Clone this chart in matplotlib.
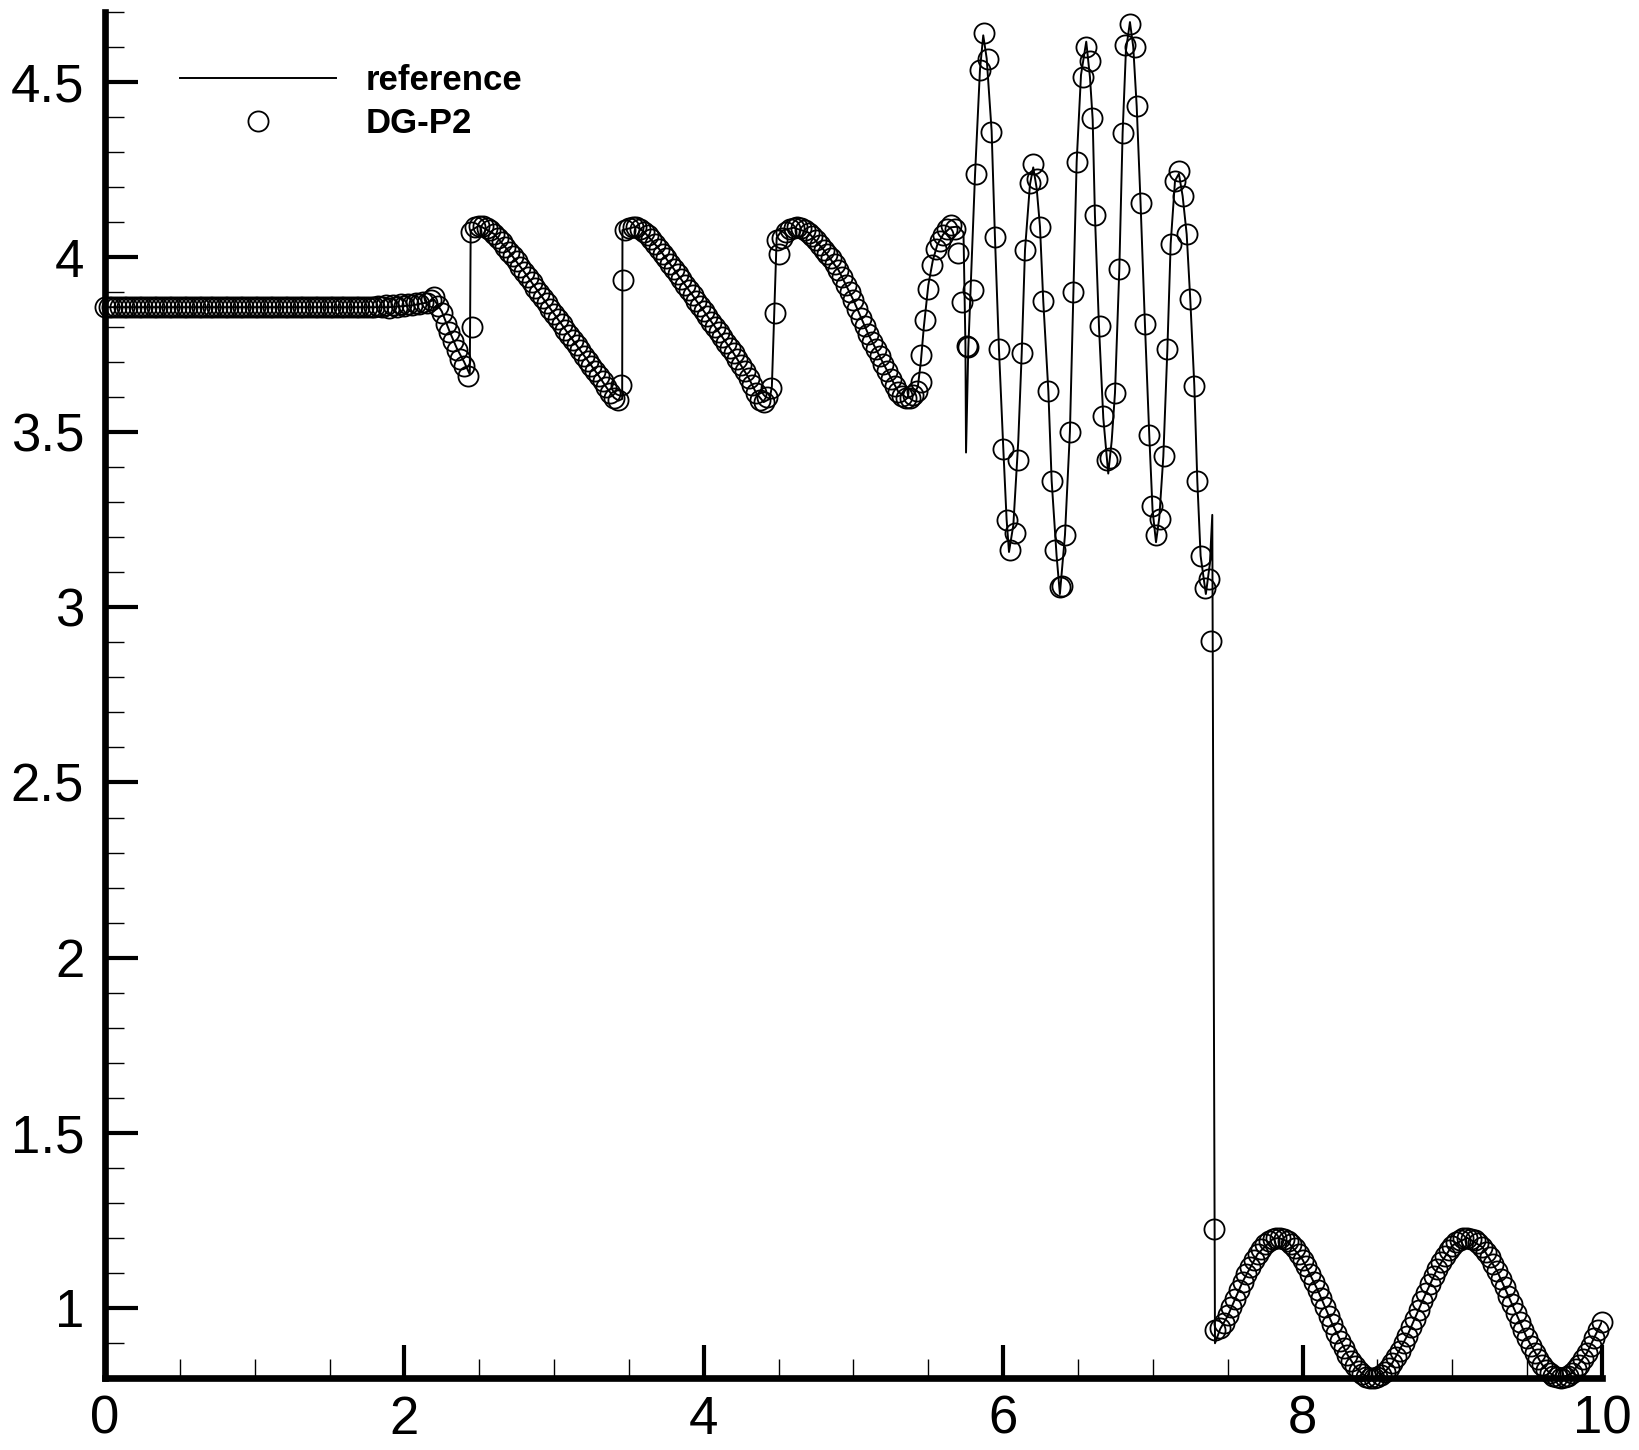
"""
Density profile: fine-grid reference vs DG-P2 (shock / entropy-wave interaction)
"""

import numpy as np
import matplotlib
matplotlib.use('Agg')  # no display
import matplotlib.pyplot as plt
from matplotlib.ticker import MultipleLocator, FormatStrFormatter

plt.rcParams['font.family'] = ['Liberation Sans', 'DejaVu Sans']

# ---------------------------------------------------------------------------
# DG-P2 points, left part on a uniform 0.025 grid starting at x = 0
# ---------------------------------------------------------------------------
DX = 0.025

rho_flat = [3.857] * 73  # x = 0 .. 1.8
rho_bump = [3.86, 3.857, 3.862, 3.855, 3.863, 3.858, 3.865, 3.86, 3.866, 3.862,
            3.868, 3.865, 3.872, 3.87, 3.878, 3.885,
            3.86, 3.84, 3.81, 3.785, 3.76, 3.735, 3.71, 3.69, 3.66,
            3.80, 4.085, 4.09]
rho_saw1 = [4.088, 4.083, 4.076, 4.066, 4.055, 4.042, 4.029, 4.015, 4.002, 3.988,
            3.973, 3.958, 3.943, 3.928, 3.913, 3.898, 3.883, 3.868, 3.853, 3.838,
            3.823, 3.808, 3.793, 3.778, 3.763, 3.748, 3.734, 3.719, 3.704, 3.689,
            3.674, 3.660, 3.645, 3.628, 3.612, 3.599,
            3.592, 3.635, 4.077, 4.084, 4.087]
rho_saw2 = [4.086, 4.081, 4.073, 4.063, 4.051, 4.038, 4.024, 4.010, 3.996, 3.981,
            3.966, 3.951, 3.936, 3.921, 3.906, 3.891, 3.876, 3.861, 3.846, 3.831,
            3.816, 3.801, 3.786, 3.771, 3.756, 3.741, 3.725, 3.709, 3.692, 3.674,
            3.655, 3.635, 3.612, 3.592, 3.586,
            3.60, 3.625, 3.84, 4.01, 4.055, 4.072, 4.08, 4.084, 4.085, 4.082, 4.077]
rho_saw3 = [4.07, 4.06, 4.048, 4.035, 4.021, 4.009, 3.997, 3.981, 3.963, 3.942,
            3.921, 3.90, 3.877, 3.853, 3.827, 3.802, 3.779, 3.757, 3.737, 3.717,
            3.696, 3.674, 3.652, 3.632, 3.615, 3.603, 3.597, 3.598, 3.607,
            3.618, 3.644, 3.819, 3.909, 3.976, 4.023, 4.047, 4.064, 4.08, 4.093,
            4.081, 4.011, 3.872]

# second value at cell interfaces where the solution jumps
extra_x = [2.447, 3.46, 4.488, 5.45]
extra_y = [4.072, 3.934, 4.05, 3.72]

# oscillatory region behind the shock (positions read one by one)
osc_x = [5.756, 5.762, 5.80, 5.818, 5.845, 5.872, 5.899, 5.92, 5.946, 5.972,
         6.001, 6.023, 6.045, 6.079, 6.101, 6.124, 6.146, 6.179, 6.201, 6.224,
         6.246, 6.268, 6.302, 6.324, 6.346, 6.381, 6.393, 6.413, 6.446, 6.469,
         6.491, 6.532, 6.556, 6.578, 6.591, 6.613, 6.647, 6.669, 6.691, 6.714,
         6.747, 6.776, 6.798, 6.814, 6.847, 6.881, 6.892, 6.918, 6.947, 6.976,
         6.992, 7.021, 7.047, 7.074, 7.097, 7.119, 7.148, 7.174, 7.199, 7.226,
         7.25, 7.277, 7.297, 7.319, 7.348, 7.377, 7.39, 7.41, 7.417]
osc_y = [3.746, 3.742, 3.906, 4.238, 4.535, 4.64, 4.566, 4.358, 4.058, 3.737,
         3.453, 3.25, 3.164, 3.213, 3.42, 3.726, 4.021, 4.212, 4.267, 4.223,
         4.087, 3.874, 3.618, 3.361, 3.164, 3.058, 3.062, 3.207, 3.502, 3.901,
         4.272, 4.513, 4.60, 4.56, 4.398, 4.12, 3.803, 3.546, 3.42, 3.426,
         3.612, 3.966, 4.354, 4.605, 4.666, 4.60, 4.431, 4.153, 3.809, 3.492,
         3.289, 3.207, 3.251, 3.431, 3.737, 4.038, 4.218, 4.245, 4.174, 4.065,
         3.879, 3.633, 3.361, 3.147, 3.054, 3.082, 2.905, 1.226, 0.937]

# pre-shock sine wave, uniform grid from x = 7.45 to 10
X_RIGHT = 7.45
rho_right = [0.942, 0.958, 0.979, 1.002, 1.026, 1.051, 1.075, 1.097, 1.118, 1.137,
             1.154, 1.169, 1.181, 1.190, 1.196, 1.200, 1.200, 1.197, 1.190, 1.181,
             1.170, 1.155, 1.138, 1.119, 1.098, 1.075, 1.052, 1.027, 1.002, 0.978,
             0.953, 0.929, 0.906, 0.885, 0.866, 0.848, 0.833, 0.821, 0.811, 0.804,
             0.801, 0.800, 0.803, 0.808, 0.817, 0.828, 0.843, 0.859, 0.878, 0.899,
             0.921, 0.944, 0.969, 0.994, 1.019, 1.043, 1.067, 1.090, 1.112, 1.132,
             1.149, 1.165, 1.178, 1.188, 1.195, 1.199, 1.200, 1.198, 1.193, 1.185,
             1.174, 1.160, 1.144, 1.125, 1.105, 1.083, 1.059, 1.035, 1.010, 0.985,
             0.961, 0.936, 0.913, 0.892, 0.872, 0.853, 0.838, 0.824, 0.814, 0.806,
             0.802, 0.800, 0.802, 0.806, 0.814, 0.825, 0.838, 0.854, 0.872, 0.892,
             0.914, 0.937, 0.961]

# ---------------------------------------------------------------------------
# Reference solution (polyline vertices)
# ---------------------------------------------------------------------------
ref_x = [0.0, 1.9, 2.05, 2.15, 2.2, 2.25, 2.3, 2.35, 2.4, 2.437,
         2.443, 2.5, 2.6, 2.7, 2.8, 2.9, 3.0, 3.1, 3.2, 3.3,
         3.35, 3.4, 3.43, 3.455, 3.457, 3.55, 3.6, 3.7, 3.8, 3.9,
         4.0, 4.1, 4.2, 4.3, 4.35, 4.4, 4.44, 4.455, 4.487, 4.52,
         4.6, 4.7, 4.8, 4.9, 5.0, 5.1, 5.2, 5.3, 5.36, 5.4,
         5.43, 5.45, 5.47, 5.5, 5.53, 5.56, 5.6, 5.65, 5.7, 5.735,
         5.748, 5.752, 5.767, 5.789, 5.812, 5.845, 5.867, 5.890, 5.923, 5.945,
         5.972, 6.001, 6.023, 6.039, 6.068, 6.101, 6.124, 6.146, 6.179, 6.201,
         6.224, 6.246, 6.268, 6.302, 6.324, 6.357, 6.379, 6.413, 6.446, 6.469,
         6.491, 6.52, 6.555, 6.58, 6.598, 6.613, 6.64, 6.669, 6.702, 6.725,
         6.747, 6.776, 6.798, 6.82, 6.847, 6.869, 6.892, 6.918, 6.947, 6.976,
         6.998, 7.021, 7.043, 7.07, 7.097, 7.119, 7.148, 7.174, 7.199, 7.226,
         7.25, 7.277, 7.297, 7.319, 7.354, 7.381, 7.397, 7.415, 7.45, 7.5,
         7.6, 7.7, 7.8, 7.84, 7.9, 8.0, 8.1, 8.2, 8.3, 8.35,
         8.4, 8.45, 8.5, 8.55, 8.6, 8.7, 8.8, 8.9, 9.0, 9.1,
         9.2, 9.3, 9.4, 9.5, 9.6, 9.65, 9.7, 9.73, 9.8, 9.9,
         10.0]
ref_y = [3.857, 3.857, 3.862, 3.87, 3.878, 3.845, 3.79, 3.74, 3.70, 3.665,
         4.075, 4.09, 4.066, 4.015, 3.958, 3.898, 3.838, 3.778, 3.719, 3.66,
         3.628, 3.599, 3.59, 3.595, 4.077, 4.087, 4.073, 4.024, 3.966, 3.906,
         3.846, 3.786, 3.725, 3.655, 3.612, 3.586, 3.595, 3.63, 4.055, 4.075,
         4.084, 4.07, 4.021, 3.963, 3.877, 3.779, 3.696, 3.615, 3.597, 3.605,
         3.63, 3.70, 3.80, 3.92, 3.99, 4.035, 4.065, 4.085, 4.087, 4.07,
         3.75, 3.442, 3.737, 3.977, 4.234, 4.534, 4.633, 4.567, 4.36, 4.059,
         3.737, 3.453, 3.251, 3.158, 3.235, 3.475, 3.726, 4.021, 4.207, 4.256,
         4.196, 4.087, 3.874, 3.617, 3.361, 3.147, 3.038, 3.207, 3.502, 3.901,
         4.272, 4.52, 4.615, 4.513, 4.393, 4.12, 3.803, 3.54, 3.382, 3.475,
         3.612, 3.966, 4.354, 4.589, 4.671, 4.60, 4.431, 4.153, 3.809, 3.492,
         3.278, 3.186, 3.256, 3.431, 3.737, 4.038, 4.218, 4.238, 4.174, 4.065,
         3.879, 3.633, 3.361, 3.147, 3.038, 3.125, 3.264, 0.899, 0.94, 0.977,
         1.075, 1.154, 1.196, 1.2, 1.19, 1.138, 1.052, 0.953, 0.866, 0.833,
         0.811, 0.801, 0.803, 0.817, 0.843, 0.921, 1.019, 1.112, 1.178, 1.2,
         1.174, 1.105, 1.01, 0.913, 0.838, 0.814, 0.802, 0.8, 0.814, 0.872,
         0.961]


def build_dg_points():
    """Collect every DG-P2 point into one x / y pair of arrays"""
    rho_left = rho_flat + rho_bump + rho_saw1 + rho_saw2 + rho_saw3
    x_left = DX * np.arange(len(rho_left))
    x_right = X_RIGHT + DX * np.arange(len(rho_right))
    x = np.concatenate([x_left, extra_x, osc_x, x_right])
    y = np.concatenate([rho_left, extra_y, osc_y, rho_right])
    return x, y


dg_x, dg_y = build_dg_points()

fig = plt.figure(figsize=(16.4, 14.5), dpi=100)
ax = fig.add_axes([0.0640, 0.0497, 0.9128, 0.9421])

ax.plot(ref_x, ref_y, color='black', linewidth=1.4, label='reference')
ax.plot(dg_x, dg_y, linestyle='none', marker='o', markersize=14.5,
        markerfacecolor='none', markeredgecolor='black', markeredgewidth=1.3,
        clip_on=False, label='DG-P2')

ax.set_xlim(0, 10)
ax.set_ylim(0.8, 4.7)

# Tecplot-like axes: thick left/bottom, ticks pointing inwards
for side in ('top', 'right'):
    ax.spines[side].set_visible(False)
for side in ('left', 'bottom'):
    ax.spines[side].set_linewidth(4.8)

ax.xaxis.set_major_locator(MultipleLocator(2))
ax.xaxis.set_minor_locator(MultipleLocator(0.5))
ax.yaxis.set_major_locator(MultipleLocator(0.5))
ax.yaxis.set_minor_locator(MultipleLocator(0.1))
ax.xaxis.set_major_formatter(FormatStrFormatter('%g'))
ax.yaxis.set_major_formatter(FormatStrFormatter('%g'))

ax.tick_params(which='major', direction='in', length=24, width=3,
               labelsize=38, top=False, right=False)
ax.tick_params(which='minor', direction='in', length=14, width=1,
               top=False, right=False)
ax.tick_params(axis='x', which='major', pad=12)
ax.tick_params(axis='y', which='major', pad=15)

ax.legend(loc='upper left', bbox_to_anchor=(0.1098, 0.9560),
          bbox_transform=fig.transFigure, frameon=False, numpoints=1,
          handlelength=4.5, handletextpad=0.84, labelspacing=0.30,
          borderpad=0, borderaxespad=0,
          prop={'size': 25, 'weight': 'bold'})

fig.savefig('out.png', dpi=100)
plt.close(fig)
